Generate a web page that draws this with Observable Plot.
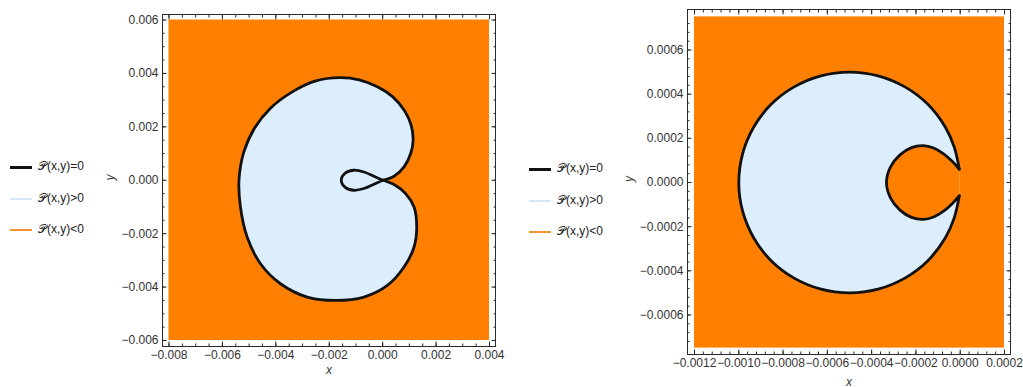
<!DOCTYPE html>
<html><head><meta charset="utf-8">
<script src="https://cdn.jsdelivr.net/npm/d3@7"></script>
<script src="https://cdn.jsdelivr.net/npm/@observablehq/plot@0.6"></script>
<style>
html,body{margin:0;padding:0;background:#fff;}
body{width:1023px;height:387px;overflow:hidden;position:relative;font-family:"Liberation Sans",Arial,sans-serif;}
.panel{position:absolute;top:0;}
.lg{position:absolute;font-size:12px;color:#222;white-space:nowrap;line-height:14px;}
.sw{position:absolute;height:0;width:22px;}
</style></head><body>
<div id="root"></div>
<script>
// ---------- data (left panel, kidney-shaped region) ----------
const leftXDomain = [-0.008, 0.004];
const leftYDomain = [-0.006, 0.006];
const leftXTicks = [-0.008, -0.006, -0.004, -0.002, 0, 0.002, 0.004];
const leftYTicks = [-0.006, -0.004, -0.002, 0, 0.002, 0.004, 0.006];
const kidneyX = [0, 0.425e-3, 0.8e-3, 1.05e-3, 1.14e-3, 1.07e-3, 0.82e-3, 0.38e-3, -0.2e-3, -0.88e-3, -1.6e-3, -2.5e-3, -3.4e-3, -4.2e-3, -4.8e-3, -5.2e-3, -5.38e-3, -5.325e-3, -5.075e-3, -4.575e-3, -3.825e-3, -2.825e-3, -1.76e-3, -0.7e-3, 0.175e-3, 0.8e-3, 1.175e-3, 1.275e-3, 1.175e-3, 0.86e-3, 0.425e-3, 0];
const kidneyY = [0, 0.15e-3, 0.5e-3, 1.0e-3, 1.5e-3, 2.05e-3, 2.6e-3, 3.12e-3, 3.5e-3, 3.76e-3, 3.84e-3, 3.72e-3, 3.3e-3, 2.7e-3, 1.95e-3, 1.05e-3, 0, -1.0e-3, -2.125e-3, -3.125e-3, -3.875e-3, -4.375e-3, -4.5e-3, -4.375e-3, -3.94e-3, -3.25e-3, -2.5e-3, -1.75e-3, -1.0e-3, -0.5e-3, -0.16e-3, 0];
const loopX = [0, -0.325e-3, -0.7e-3, -1.075e-3, -1.39e-3, -1.55e-3, -1.39e-3, -1.075e-3, -0.7e-3, -0.325e-3, 0];
const loopY = [0, 0.15e-3, 0.31e-3, 0.375e-3, 0.275e-3, 0, -0.275e-3, -0.375e-3, -0.31e-3, -0.15e-3, 0];

// ---------- data (right panel, disc with notch) ----------
const rightXDomain = [-0.0012, 0.0002];
const rightYDomain = [-0.00075, 0.00075];
const rightXTicks = [-0.0012, -0.0010, -0.0008, -0.0006, -0.0004, -0.0002, 0, 0.0002];
const rightYTicks = [-0.0006, -0.0004, -0.0002, 0, 0.0002, 0.0004, 0.0006];
const discX = [-0.04e-4, -0.27e-4, -0.67e-4, -1.46e-4, -2.5e-4, -3.71e-4, -5e-4, -6.29e-4, -7.5e-4, -8.54e-4, -9.33e-4, -9.83e-4, -10e-4, -9.83e-4, -9.33e-4, -8.54e-4, -7.5e-4, -6.29e-4, -5e-4, -3.71e-4, -2.5e-4, -1.46e-4, -0.67e-4, -0.27e-4, -0.04e-4];
const discY = [0.6e-4, 1.6e-4, 2.5e-4, 3.54e-4, 4.33e-4, 4.83e-4, 5e-4, 4.83e-4, 4.33e-4, 3.54e-4, 2.5e-4, 1.29e-4, 0, -1.29e-4, -2.5e-4, -3.54e-4, -4.33e-4, -4.83e-4, -5e-4, -4.83e-4, -4.33e-4, -3.54e-4, -2.5e-4, -1.6e-4, -0.6e-4];
const holeX = [-0.04e-4, -0.35e-4, -0.75e-4, -1.2e-4, -1.67e-4, -2.2e-4, -2.72e-4, -3.15e-4, -3.33e-4, -3.15e-4, -2.72e-4, -2.2e-4, -1.67e-4, -1.2e-4, -0.75e-4, -0.35e-4, -0.04e-4];
const holeY = [-0.6e-4, -0.95e-4, -1.3e-4, -1.56e-4, -1.67e-4, -1.58e-4, -1.25e-4, -0.7e-4, 0, 0.7e-4, 1.25e-4, 1.58e-4, 1.67e-4, 1.56e-4, 1.3e-4, 0.95e-4, 0.6e-4];

// ---------- legend ----------
const legendLabels = ["𝒫(x,y)=0", "𝒫(x,y)>0", "𝒫(x,y)<0"];

const ORANGE = "#ff8000", LIGHT = "#dcedfc", INK = "#111", FRAME = "#2a2a2a", TXT = "#333";
const pts = (xs, ys) => xs.map((x, i) => ({x, y: ys[i]}));
const minus = s => s.replace("-", "\u2212");

function panel(o) {
  const tick = (anchorSide, ticks, size) => anchorSide === "bottom" || anchorSide === "top"
    ? Plot.axisX(ticks, {anchor: anchorSide, tickSize: -size, fill: "none", stroke: FRAME, label: null})
    : Plot.axisY(ticks, {anchor: anchorSide, tickSize: -size, fill: "none", stroke: FRAME, label: null});
  return Plot.plot({
    width: o.width, height: o.height,
    marginLeft: o.m[0], marginRight: o.m[1], marginTop: o.m[2], marginBottom: o.m[3],
    insetLeft: o.ins[0], insetRight: o.ins[1], insetTop: o.ins[2], insetBottom: o.ins[3],
    style: {fontFamily: '"Liberation Sans", Arial, sans-serif', fontSize: "12px", color: TXT, background: "transparent"},
    x: {domain: o.xDomain},
    y: {domain: o.yDomain},
    marks: [
      Plot.rect([0], {x1: o.xDomain[0], x2: o.xDomain[1], y1: o.yDomain[0], y2: o.yDomain[1], fill: ORANGE}),
      ...o.shapes,
      Plot.frame({stroke: FRAME, strokeWidth: 1}),
      tick("bottom", o.xMajor, 4.5), tick("top", o.xMajor, 4.5),
      tick("left", o.yMajor, 4.5), tick("right", o.yMajor, 4.5),
      tick("bottom", o.xMinor, 2.5), tick("top", o.xMinor, 2.5),
      tick("left", o.yMinor, 2.5), tick("right", o.yMinor, 2.5),
      Plot.axisX(o.xMajor, {anchor: "bottom", tickSize: 0, tickPadding: 4, stroke: "none", fill: TXT, tickFormat: o.fmt, label: null}),
      Plot.axisY(o.yMajor, {anchor: "left", tickSize: 0, tickPadding: 4, stroke: "none", fill: TXT, tickFormat: o.fmt, label: null}),
      Plot.text(["x"], {frameAnchor: "bottom", dy: o.xLabelDy, fill: TXT, fontStyle: "italic", fontSize: 12}),
      Plot.text(["y"], {frameAnchor: "left", dx: o.yLabelDx, rotate: -90, fill: TXT, fontStyle: "italic", fontSize: 12})
    ]
  });
}

const fmt3 = d => minus(Math.abs(d) < 1e-12 ? "0.000" : d.toFixed(3));
const fmt4 = d => minus(Math.abs(d) < 1e-12 ? "0.0000" : d.toFixed(4));

const left = panel({
  width: 420, height: 387, m: [62, 25, 14, 41], ins: [6.5, 6, 5.5, 6],
  xDomain: leftXDomain, yDomain: leftYDomain,
  xMajor: leftXTicks, yMajor: leftYTicks,
  xMinor: d3.range(-0.008, 0.00401, 0.0005), yMinor: d3.range(-0.006, 0.00601, 0.0005),
  fmt: fmt3, xLabelDy: 27, yLabelDx: -52,
  shapes: [
    Plot.line(pts(kidneyX, kidneyY), {x: "x", y: "y", curve: "catmull-rom", fill: LIGHT, stroke: INK, strokeWidth: 2.8}),
    Plot.line(pts(loopX, loopY), {x: "x", y: "y", curve: "catmull-rom", fill: LIGHT, stroke: INK, strokeWidth: 2.8})
  ]
});
left.classList.add("panel"); left.style.left = "100px";

const right = panel({
  width: 423, height: 387, m: [87, 13, 9, 33], ins: [7, 6, 7.4, 6.4],
  xDomain: rightXDomain, yDomain: rightYDomain,
  xMajor: rightXTicks, yMajor: rightYTicks,
  xMinor: d3.range(-0.0012, 0.000201, 0.00004), yMinor: d3.range(-0.00072, 0.000721, 0.00004),
  fmt: fmt4, xLabelDy: 31, yLabelDx: -58,
  shapes: [
    Plot.line(pts(discX, discY), {x: "x", y: "y", curve: "catmull-rom", fill: LIGHT, stroke: INK, strokeWidth: 2.8}),
    Plot.line(pts(holeX, holeY), {x: "x", y: "y", curve: "catmull-rom", fill: ORANGE, stroke: INK, strokeWidth: 2.8})
  ]
});
right.classList.add("panel"); right.style.left = "600px";

const root = document.getElementById("root");
root.append(left, right);

function legend(x0, ys) {
  const sw = [{c: INK, w: 3}, {c: "#d6e9fb", w: 2}, {c: "#f29430", w: 2}];
  ys.forEach((y, i) => {
    const s = document.createElement("div");
    s.className = "sw";
    s.style.left = x0 + "px"; s.style.top = (y - sw[i].w / 2) + "px";
    s.style.borderTop = `${sw[i].w}px solid ${sw[i].c}`;
    const t = document.createElement("div");
    t.className = "lg"; t.textContent = legendLabels[i];
    t.style.left = (x0 + 28) + "px"; t.style.top = (y - 8) + "px";
    root.append(s, t);
  });
}
legend(10, [167, 199, 230]);
legend(529, [169, 201, 232]);
</script>
</body></html>
